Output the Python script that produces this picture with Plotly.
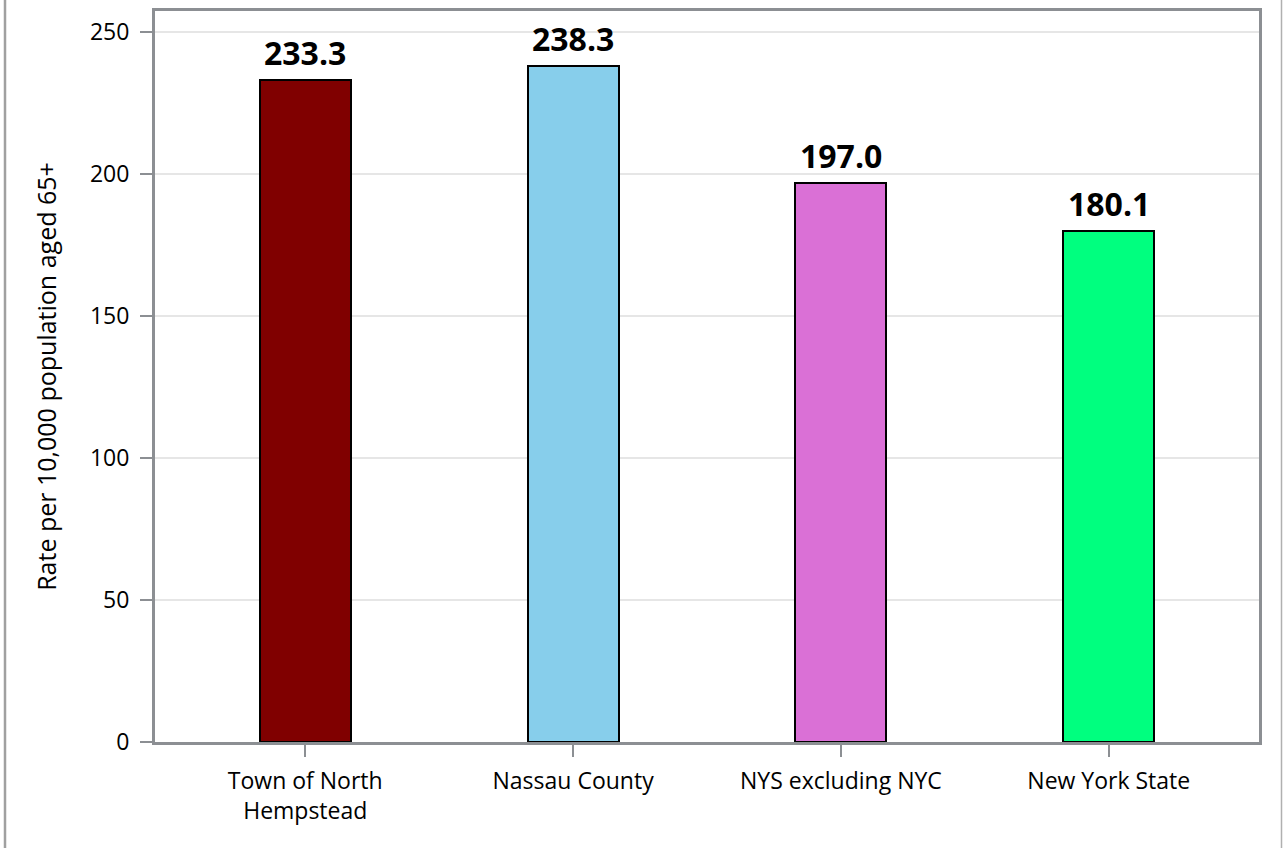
import plotly.graph_objects as go

categories = ["Town of North<br>Hempstead", "Nassau County", "NYS excluding NYC", "New York State"]
values = [233.3, 238.3, 197.0, 180.1]
colors = ["#800000", "#87CEEB", "#DA70D6", "#00FF7F"]
labels = [f"{v:.1f}" for v in values]
y_ticks = [0, 50, 100, 150, 200, 250]

FONT = "Open Sans"
AX = "#8c8f93"

fig = go.Figure()
fig.add_trace(go.Bar(
    x=list(range(len(categories))),
    y=values,
    width=0.34,
    marker=dict(color=colors, line=dict(color="black", width=2)),
    hoverinfo="skip",
))

for i, (v, t) in enumerate(zip(values, labels)):
    fig.add_annotation(x=i, y=v, text=f"<b>{t}</b>", showarrow=False,
                       yanchor="bottom", yshift=4,
                       font=dict(family=FONT, size=32, color="black"))

ml, mr, mt, mb = 155, 24, 8, 106
W, H = 1283, 848
pw = W - ml - mr

def px_to_paper_x(px):
    return (px - ml) / pw

fig.add_shape(type="line", xref="paper", yref="paper",
              x0=px_to_paper_x(5), x1=px_to_paper_x(5), y0=-2, y1=2,
              line=dict(color="#a0a0a0", width=2.5), layer="above")
fig.add_shape(type="line", xref="paper", yref="paper",
              x0=px_to_paper_x(1281.5), x1=px_to_paper_x(1281.5), y0=-2, y1=2,
              line=dict(color="#b0b0b0", width=1.5), layer="above")

fig.update_layout(
    width=W, height=H,
    margin=dict(l=ml, r=mr, t=mt, b=mb),
    plot_bgcolor="white", paper_bgcolor="white",
    showlegend=False,
    font=dict(family=FONT, size=23, color="black"),
    bargap=0,
)
fig.update_xaxes(
    tickmode="array", tickvals=list(range(len(categories))), ticktext=categories,
    range=[-0.561, 3.561],
    showline=True, linecolor=AX, linewidth=3, mirror=True,
    ticks="outside", ticklen=12, tickwidth=2, tickcolor=AX,
    showgrid=False, zeroline=False,
    tickfont=dict(family=FONT, size=23),
    ticklabelstandoff=4,
)
fig.update_yaxes(
    tickmode="array", tickvals=y_ticks,
    range=[0, 257.5],
    showline=True, linecolor=AX, linewidth=3, mirror=True,
    ticks="outside", ticklen=12, tickwidth=2, tickcolor=AX,
    showgrid=True, gridcolor="#e6e6e6", gridwidth=2,
    zeroline=False,
    tickfont=dict(family=FONT, size=23),
    ticklabelstandoff=6,
    title=dict(text="Rate per 10,000 population aged 65+", font=dict(family=FONT, size=25), standoff=27),
)

fig.write_html("out.html", config={"displayModeBar": False},
               post_script="document.body.style.margin='0px';document.body.style.overflow='hidden';")
